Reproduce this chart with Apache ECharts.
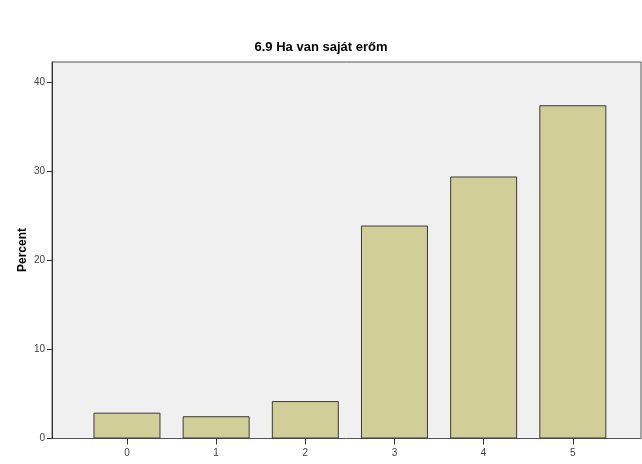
<!DOCTYPE html>
<html><head><meta charset="utf-8">
<script src="https://cdn.jsdelivr.net/npm/echarts@6/dist/echarts.min.js"></script>
<style>html,body{margin:0;padding:0;background:#fff}#c{width:642px;height:464px}</style>
</head><body><div id="c"></div>
<script>
const titleText = "6.9 Ha van saját erőm";
const yAxisTitle = "Percent";
const categories = ["0", "1", "2", "3", "4", "5"];
const percentValues = [2.9, 2.5, 4.2, 23.9, 29.4, 37.4];
const yTicks = [0, 10, 20, 30, 40];

const chart = echarts.init(document.getElementById('c'));
const yMax = 42.25;
chart.setOption({
  backgroundColor: '#ffffff',
  animation: false,
  title: {
    text: titleText, left: 'center', top: 36,
    textStyle: {fontFamily: 'Liberation Sans', fontSize: 13, fontWeight: 'bold', color: '#000'}
  },
  graphic: [{
    type: 'text', x: 23, y: 250, rotation: Math.PI / 2,
    style: {text: yAxisTitle, fontFamily: 'Liberation Sans', fontSize: 12, fontWeight: 'bold', fill: '#000',
            align: 'center', verticalAlign: 'middle'}
  }],
  grid: [
    {left: 52, right: 1, top: 62, bottom: 25.5, show: true, backgroundColor: '#f0f0f0', borderColor: '#555', borderWidth: 1},
    {left: 82.4, width: 535, top: 62, bottom: 25.5}
  ],
  xAxis: [
    {gridIndex: 0, type: 'value', min: 0, max: 1, show: false},
    {gridIndex: 1, type: 'category', data: categories,
     axisLine: {show: false},
     axisTick: {show: true, alignWithLabel: true, length: 6, lineStyle: {color: '#333'}},
     axisLabel: {fontFamily: 'Liberation Sans', fontSize: 10, color: '#444', margin: 10}}
  ],
  yAxis: [
    {gridIndex: 0, type: 'value', min: 0, max: yMax, interval: 10,
     axisLine: {show: true, lineStyle: {color: '#333'}},
     axisTick: {show: true, length: 5, lineStyle: {color: '#333'}, customValues: yTicks},
     splitLine: {show: false},
     axisLabel: {fontFamily: 'Liberation Sans', fontSize: 10, color: '#444', margin: 7, customValues: yTicks}},
    {gridIndex: 1, type: 'value', min: 0, max: yMax, show: false}
  ],
  series: [{
    type: 'bar', xAxisIndex: 1, yAxisIndex: 1,
    data: percentValues, barWidth: 67,
    itemStyle: {color: '#d2ce97', borderColor: '#3a3a3a', borderWidth: 1}
  }]
});
</script></body></html>
